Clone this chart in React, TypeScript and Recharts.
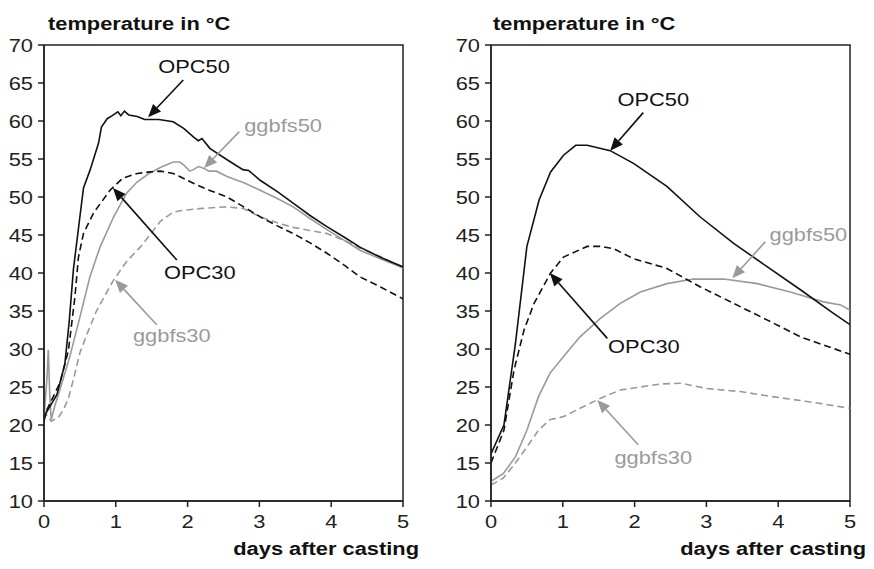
import React from 'react'
import { LineChart, Line, XAxis, YAxis, ReferenceArea, ReferenceLine, ReferenceDot } from 'recharts'

type Pt = { d: number; t: number }
const pts = (rows: number[][]): Pt[] => rows.map(([d, t]) => ({ d, t }))

const DAY_TICKS = [0, 1, 2, 3, 4, 5]
const TEMP_TICKS = [10, 15, 20, 25, 30, 35, 40, 45, 50, 55, 60, 65, 70]

// left panel (measured)
const leftOpc50 = pts([
  [0, 21], [0.03, 21.6], [0.18, 24], [0.29, 28], [0.35, 33.5], [0.41, 40.5], [0.5, 47.4], [0.55, 51.2],
  [0.64, 53.5], [0.76, 57.1], [0.8, 59.2], [0.88, 60.3], [0.95, 60.7], [1.03, 61.2], [1.07, 60.7],
  [1.12, 61.3], [1.18, 60.8], [1.3, 60.6], [1.4, 60.2], [1.6, 60.2], [1.8, 59.9], [1.95, 59],
  [2.08, 57.9], [2.15, 57.4], [2.2, 57.7], [2.31, 56.4], [2.55, 54.9], [2.77, 53.6], [2.85, 53.5],
  [3.01, 52.2], [3.25, 50.7], [3.47, 49.2], [3.7, 47.6], [3.94, 46.1], [4.2, 44.6], [4.4, 43.4],
  [4.7, 42], [5, 40.8],
])
const leftOpc30 = pts([
  [0, 20.5], [0.04, 22], [0.22, 25.5], [0.34, 29.8], [0.43, 36.8], [0.48, 42.1], [0.55, 45.2],
  [0.69, 47.9], [0.92, 50.9], [1.1, 52.5], [1.3, 53.1], [1.48, 53.3], [1.62, 53.4], [1.8, 53.1],
  [1.89, 52.7], [2.08, 51.8], [2.3, 50.9], [2.55, 50], [2.8, 48.6], [3.01, 47.4], [3.25, 46.2],
  [3.47, 45.2], [3.7, 44], [3.94, 42.6], [4.2, 40.9], [4.4, 39.5], [4.7, 38.1], [5, 36.6],
])
const leftGgbfs50 = pts([
  [0, 21], [0.04, 26], [0.06, 29.9], [0.08, 24], [0.1, 20.7], [0.15, 22.5], [0.22, 24.6], [0.36, 29],
  [0.5, 34.2], [0.64, 39.5], [0.78, 43.4], [0.97, 47.4], [1.15, 50.5], [1.3, 52], [1.48, 53.2],
  [1.65, 54], [1.8, 54.6], [1.89, 54.6], [1.95, 54.2], [2.03, 53.4], [2.08, 53.6], [2.15, 54],
  [2.22, 53.8], [2.3, 53.4], [2.4, 53.4], [2.55, 52.7], [2.8, 51.8], [3.01, 50.9], [3.25, 49.8],
  [3.47, 48.7], [3.7, 47.2], [3.94, 45.7], [4.2, 44.2], [4.4, 43], [4.7, 41.8], [5, 40.7],
])
const leftGgbfs30 = pts([
  [0, 22], [0.05, 21], [0.1, 20.5], [0.2, 21], [0.27, 22], [0.34, 23.5], [0.41, 26], [0.5, 29.5],
  [0.6, 32], [0.73, 35], [0.97, 39.1], [1.15, 41.5], [1.34, 43.4], [1.5, 45.3], [1.62, 46.8],
  [1.8, 48], [1.9, 48.2], [2.2, 48.5], [2.54, 48.7], [2.77, 48.5], [3.01, 47.4], [3.25, 46.6],
  [3.47, 46], [3.7, 45.6], [3.94, 45.2], [4.2, 44.2], [4.4, 43.3], [4.7, 42.1], [5, 40.7],
])

// right panel (calculated)
const rightOpc50 = pts([
  [0, 16.2], [0.18, 20], [0.34, 30.7], [0.5, 43.5], [0.67, 49.6], [0.83, 53.3], [1.01, 55.5],
  [1.18, 56.8], [1.34, 56.8], [1.66, 56.1], [1.99, 54.4], [2.45, 51.4], [2.91, 47.4], [3.38, 43.9],
  [3.85, 40.8], [4.31, 37.8], [4.77, 34.7], [5, 33.2],
])
const rightOpc30 = pts([
  [0, 15], [0.18, 19.3], [0.32, 27.2], [0.46, 32.5], [0.6, 36], [0.83, 40], [1.01, 42.1],
  [1.34, 43.5], [1.52, 43.5], [1.71, 43.2], [1.98, 41.9], [2.45, 40.6], [2.91, 38.2], [3.38, 36],
  [3.85, 33.8], [4.31, 31.6], [5, 29.3],
])
const rightGgbfs50 = pts([
  [0, 12.6], [0.17, 13.6], [0.34, 15.8], [0.5, 19.3], [0.66, 23.7], [0.82, 26.8], [1.01, 29],
  [1.24, 31.6], [1.52, 34], [1.8, 36], [2.08, 37.5], [2.45, 38.6], [2.82, 39.2], [3.24, 39.2],
  [3.71, 38.6], [4.17, 37.5], [4.63, 36.2], [4.87, 35.8], [5, 35.1],
])
const rightGgbfs30 = pts([
  [0, 12.1], [0.17, 13], [0.34, 15], [0.5, 17.1], [0.66, 19.3], [0.82, 20.7], [1.01, 21.1],
  [1.24, 22.2], [1.52, 23.5], [1.8, 24.6], [2.08, 25], [2.36, 25.4], [2.64, 25.5], [3.01, 24.8],
  [3.47, 24.4], [3.94, 23.7], [4.4, 23.1], [5, 22.2],
])

const BLACK = '#111'
const GRAY = '#9a9a9a'
const FONT = '"Liberation Sans", Arial, sans-serif'
const SX = 1.15 // source image is a little stretched sideways

type Note = { text: string; color: string; at: number[]; from: number[]; to: number[] }

const leftNotes: Note[] = [
  { text: 'OPC50', color: BLACK, at: [2.09, 67.2], from: [1.94, 65.4], to: [1.45, 60.5] },
  { text: 'ggbfs50', color: GRAY, at: [3.33, 59.5], from: [2.72, 58.6], to: [2.23, 53.8] },
  { text: 'OPC30', color: BLACK, at: [2.17, 40.1], from: [1.85, 41.7], to: [0.96, 51.2] },
  { text: 'ggbfs30', color: GRAY, at: [1.78, 31.8], from: [1.57, 33.2], to: [0.99, 39.1] },
]
const rightNotes: Note[] = [
  { text: 'OPC50', color: BLACK, at: [2.26, 62.8], from: [2.12, 61.1], to: [1.66, 56.1] },
  { text: 'ggbfs50', color: GRAY, at: [4.42, 45.1], from: [3.82, 44.1], to: [3.36, 39.3] },
  { text: 'OPC30', color: BLACK, at: [2.13, 30.4], from: [1.62, 31.4], to: [0.82, 40] },
  { text: 'ggbfs30', color: GRAY, at: [2.26, 15.8], from: [2.05, 17.4], to: [1.48, 23.3] },
]

const SText = ({ x, y, anchor = 'middle', dy = '0', fill = BLACK, size = 19, bold = false, children }: any) => (
  <text
    transform={`translate(${x} ${y}) scale(${SX} 1)`}
    textAnchor={anchor}
    dy={dy}
    fill={fill}
    fontSize={size}
    fontWeight={bold ? 'bold' : 'normal'}
    fontFamily={FONT}
  >
    {children}
  </text>
)

const YTick = (p: any) => (
  <SText x={p.x} y={p.y} anchor="end" dy="0.355em" fill="#222">{p.payload.value}</SText>
)
const XTick = (p: any) => (
  <SText x={p.x} y={p.y} anchor="middle" dy="0.71em" fill="#222">{p.payload.value}</SText>
)

const arrowShape = (color: string) => (p: any) => {
  const { x1, y1, x2, y2 } = p
  const a = Math.atan2(y2 - y1, x2 - x1)
  const len = 13
  const w = 5.5
  const bx = x2 - len * Math.cos(a)
  const by = y2 - len * Math.sin(a)
  const nx = -Math.sin(a) * w
  const ny = Math.cos(a) * w
  return (
    <g>
      <line x1={x1} y1={y1} x2={bx} y2={by} stroke={color} strokeWidth={1.6} />
      <polygon points={`${x2},${y2} ${bx + nx},${by + ny} ${bx - nx},${by - ny}`} fill={color} />
    </g>
  )
}

const noteShape = (n: Note) => (p: any) => (
  <SText x={p.cx} y={p.cy} dy="0.355em" fill={n.color}>{n.text}</SText>
)

function Panel({ opc50, opc30, ggbfs50, ggbfs30, notes }: { opc50: Pt[]; opc30: Pt[]; ggbfs50: Pt[]; ggbfs30: Pt[]; notes: Note[] }) {
  return (
    <LineChart width={420} height={569} margin={{ top: 45, right: 17, bottom: 38, left: 0 }}>
      <XAxis
        type="number"
        dataKey="d"
        domain={[0, 5]}
        ticks={DAY_TICKS}
        allowDataOverflow
        height={30}
        stroke="#222"
        strokeWidth={1.5}
        tickSize={6}
        tickMargin={8}
        tick={<XTick />}
      />
      <YAxis
        type="number"
        dataKey="t"
        domain={[10, 70]}
        ticks={TEMP_TICKS}
        allowDataOverflow
        width={44}
        stroke="#222"
        strokeWidth={1.5}
        tickSize={6}
        tickMargin={5}
        tick={<YTick />}
      />
      <ReferenceArea x1={0} x2={5} y1={10} y2={70} fill="none" stroke="#222" strokeWidth={1.5} />
      <Line data={ggbfs30} dataKey="t" stroke={GRAY} strokeWidth={1.6} strokeDasharray="7 4" dot={false} isAnimationActive={false} />
      <Line data={ggbfs50} dataKey="t" stroke={GRAY} strokeWidth={1.6} dot={false} isAnimationActive={false} />
      <Line data={opc30} dataKey="t" stroke={BLACK} strokeWidth={1.6} strokeDasharray="7 4" dot={false} isAnimationActive={false} />
      <Line data={opc50} dataKey="t" stroke={BLACK} strokeWidth={1.6} dot={false} isAnimationActive={false} />
      {notes.map((n) => (
        <ReferenceLine
          key={'a' + n.text}
          segment={[{ x: n.from[0], y: n.from[1] }, { x: n.to[0], y: n.to[1] }]}
          shape={arrowShape(n.color)}
        />
      ))}
      {notes.map((n) => (
        <ReferenceDot key={'t' + n.text} x={n.at[0]} y={n.at[1]} r={0} shape={noteShape(n)} />
      ))}
    </LineChart>
  )
}

export default function App() {
  return (
    <div style={{ position: 'absolute', left: 0, top: 0, width: 874, height: 569, background: '#fff' }}>
      <div style={{ position: 'absolute', left: 0, top: 0 }}>
        <Panel opc50={leftOpc50} opc30={leftOpc30} ggbfs50={leftGgbfs50} ggbfs30={leftGgbfs30} notes={leftNotes} />
      </div>
      <div style={{ position: 'absolute', left: 447, top: 0 }}>
        <Panel opc50={rightOpc50} opc30={rightOpc30} ggbfs50={rightGgbfs50} ggbfs30={rightGgbfs30} notes={rightNotes} />
      </div>
      <svg width={874} height={569} style={{ position: 'absolute', left: 0, top: 0, pointerEvents: 'none' }}>
        <SText x={48} y={30} anchor="start" bold>temperature in °C</SText>
        <SText x={493} y={30} anchor="start" bold>temperature in °C</SText>
        <SText x={419} y={555} anchor="end" bold>days after casting</SText>
        <SText x={866} y={555} anchor="end" bold>days after casting</SText>
      </svg>
    </div>
  )
}
